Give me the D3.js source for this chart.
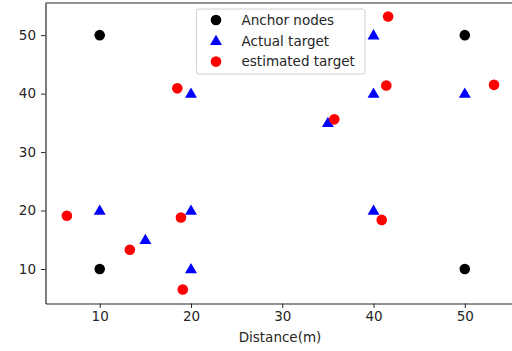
<!DOCTYPE html>
<html>
<head>
<meta charset="utf-8">
<script src="https://cdn.jsdelivr.net/npm/d3@7"></script>
<style>
  body { margin: 0; background: #fff; }
  svg { display: block; font-family: "DejaVu Sans", sans-serif; }
</style>
</head>
<body>
<div id="chart"></div>
<script>
// anchor nodes
const anchorX = [10, 50, 10, 50];
const anchorY = [50, 50, 10, 10];

// actual target positions
const actualX = [10, 15, 20, 20, 20, 35, 40, 40, 40, 50];
const actualY = [20, 15, 10, 20, 40, 35, 40, 50, 20, 40];

// estimated target positions
const estX = [6.4, 13.3, 18.9, 19.1, 18.5, 35.7, 41.4, 41.6, 40.9, 53.2];
const estY = [19.1, 13.3, 18.8, 6.5, 40.9, 35.6, 41.4, 53.2, 18.4, 41.5];

const xTicks = [10, 20, 30, 40, 50];
const yTicks = [10, 20, 30, 40, 50];

const width = 512, height = 351;
const margins = { top: 3, bottom: 47.5, left: 45.5, right: -3 };
const fontSize = 13.5;

const svg = d3.select('#chart').append('svg')
    .attr('width', width)
    .attr('height', height);

const xScale = d3.scaleLinear()
    .domain([4.06, 55.5])
    .range([margins.left, width - margins.right]);

const yScale = d3.scaleLinear()
    .domain([4.1, 55.5])
    .range([height - margins.bottom, margins.top]);

// axes
const xAxisGroup = svg.append('g')
    .attr('transform', `translate(0,${height - margins.bottom})`)
    .call(d3.axisBottom(xScale).tickValues(xTicks).tickSize(4.5).tickSizeOuter(0).tickPadding(3));

const yAxisGroup = svg.append('g')
    .attr('transform', `translate(${margins.left},0)`)
    .call(d3.axisLeft(yScale).tickValues(yTicks).tickSize(4.5).tickSizeOuter(0).tickPadding(5));

[xAxisGroup, yAxisGroup].forEach(g => {
    g.selectAll('text').attr('font-size', fontSize).attr('fill', '#262626').attr('font-family', '"DejaVu Sans", sans-serif');
    g.selectAll('line').attr('stroke', '#262626').attr('stroke-width', 1);
    g.select('.domain').attr('stroke', '#262626').attr('stroke-width', 1.2);
});

// top spine (right spine is outside the frame)
svg.append('line')
    .attr('x1', margins.left).attr('x2', width)
    .attr('y1', margins.top).attr('y2', margins.top)
    .attr('stroke', '#262626').attr('stroke-width', 1.2);

// x label
svg.append('text')
    .attr('x', 280)
    .attr('y', 342.3)
    .attr('text-anchor', 'middle')
    .attr('font-size', fontSize)
    .attr('fill', '#262626')
    .text('Distance(m)');

const tri = d3.symbol().type(d3.symbolTriangle).size(62);

// anchors
svg.append('g').selectAll('circle')
    .data(anchorX)
    .join('circle')
    .attr('cx', (d, i) => xScale(d))
    .attr('cy', (d, i) => yScale(anchorY[i]))
    .attr('r', 5.3)
    .attr('fill', 'black');

// actual targets
svg.append('g').selectAll('path')
    .data(actualX)
    .join('path')
    .attr('d', tri)
    .attr('transform', (d, i) => `translate(${xScale(d)},${yScale(actualY[i]) + 0.8})`)
    .attr('fill', 'blue');

// estimated targets
svg.append('g').selectAll('circle')
    .data(estX)
    .join('circle')
    .attr('cx', (d, i) => xScale(d))
    .attr('cy', (d, i) => yScale(estY[i]))
    .attr('r', 5.3)
    .attr('fill', 'red');

// legend
const legend = svg.append('g').attr('transform', 'translate(196.5,9)');
legend.append('rect')
    .attr('width', 168.5).attr('height', 65)
    .attr('rx', 2.5)
    .attr('fill', 'white').attr('fill-opacity', 0.8)
    .attr('stroke', '#d0d0d0');

const legendItems = ['Anchor nodes', 'Actual target', 'estimated target'];
const legendColors = ['black', 'blue', 'red'];

legendItems.forEach((label, i) => {
    const y = 11 + 20.8 * i;
    if (i === 1) {
        legend.append('path')
            .attr('d', tri)
            .attr('transform', `translate(19.5,${y + 0.8})`)
            .attr('fill', legendColors[i]);
    } else {
        legend.append('circle')
            .attr('cx', 19.5).attr('cy', y).attr('r', 5.3)
            .attr('fill', legendColors[i]);
    }
    legend.append('text')
        .attr('x', 45)
        .attr('y', y)
        .attr('dy', '0.36em')
        .attr('font-size', fontSize)
        .attr('fill', '#262626')
        .text(label);
});
</script>
</body>
</html>
